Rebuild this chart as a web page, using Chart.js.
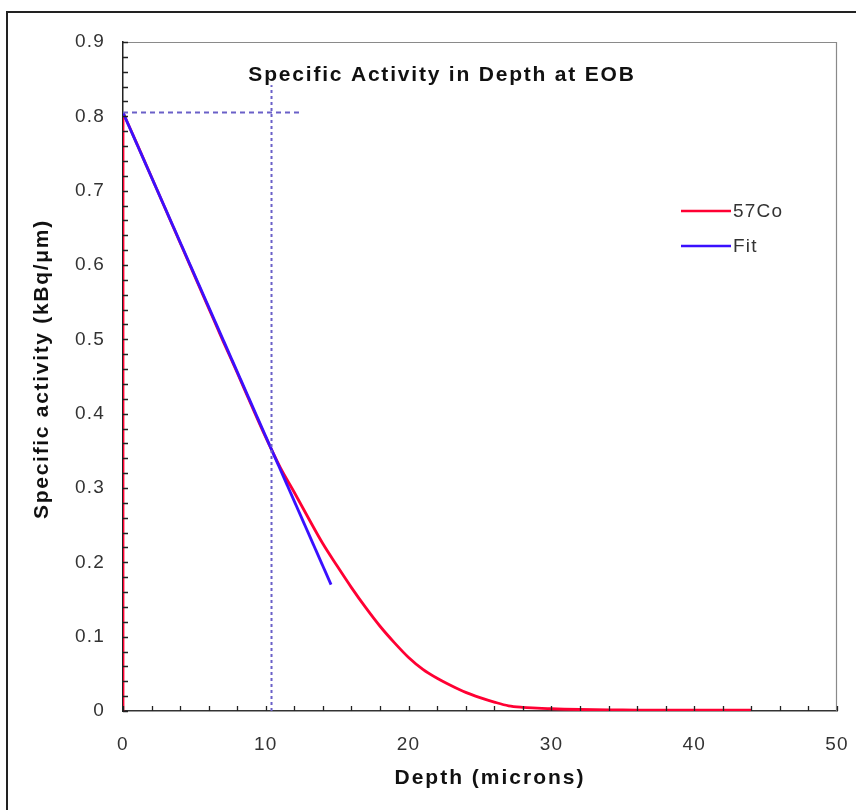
<!DOCTYPE html>
<html>
<head>
<meta charset="utf-8">
<script src="https://cdn.jsdelivr.net/npm/chart.js@4.4.1/dist/chart.umd.min.js"></script>
<style>
  html,body{margin:0;padding:0;background:#fff;overflow:hidden;}
  #wrap{position:relative;width:856px;height:810px;}
  #frame{position:absolute;left:6px;top:11px;width:900px;height:900px;border-left:2px solid #222;border-top:2px solid #222;}
  canvas{position:absolute;left:0;top:0;}
</style>
</head>
<body>
<div id="wrap"><div id="frame"></div><canvas id="c" width="856" height="810"></canvas></div>
<script>
// ---- data ----
const depth57 = [0, 1, 2, 3, 4, 5, 6, 7, 8, 9, 10, 11, 12, 13, 14, 15, 16, 17, 18, 19, 20, 21, 22, 23, 24, 25, 26, 27, 28, 29, 30, 32, 35, 38, 41, 44];
const act57   = [0.805, 0.762, 0.718, 0.674, 0.630, 0.586, 0.542, 0.498, 0.455, 0.411, 0.368, 0.328, 0.294, 0.259, 0.225, 0.195, 0.166, 0.139, 0.114, 0.092, 0.072, 0.056, 0.044, 0.034, 0.025, 0.018, 0.012, 0.007, 0.005, 0.004, 0.003, 0.002, 0.0015, 0.001, 0.001, 0.001];
const riseDepth = [0, 0];          // 57Co trace rises along the axis at depth 0
const riseAct   = [0, 0.805];
const fitDepth = [0, 14.57];
const fitAct   = [0.805, 0.17];
const hGuideDepth = [0, 12.4];
const hGuideAct   = [0.805, 0.805];
const vGuideDepth = [10.4, 10.4];
const vGuideAct   = [0, 0.842];
const xTicks = [0, 10, 20, 30, 40, 50];
const yTicks = [0, 0.1, 0.2, 0.3, 0.4, 0.5, 0.6, 0.7, 0.8, 0.9];
const seriesLabels = ['57Co', 'Fit'];
const chartTitle = 'Specific Activity in Depth at EOB';
const xTitle = 'Depth (microns)';
const yTitle = 'Specific activity (kBq/\u03bcm)';

const pts = (xs, ys) => xs.map((x, i) => ({x, y: ys[i]}));
const FONT = "'Liberation Sans', Arial, sans-serif";
const RED = '#ff0033', BLUE = '#3a10ff', GUIDE = '#6a60c8';

const L = 123, T = 42, R = 837, B = 711, W = 856, H = 810;

const extras = {
  id: 'extras',
  beforeDraw(chart) {
    chart.ctx.letterSpacing = '1.2px';
  },
  afterDraw(chart) {
    const ctx = chart.ctx, ca = chart.chartArea;
    const xs = chart.scales.x, ys = chart.scales.y;
    ctx.save();
    // top & right frame of plot
    ctx.strokeStyle = '#8a8a8a'; ctx.lineWidth = 1.2;
    ctx.beginPath();
    ctx.moveTo(ca.left, ca.top + 0.5); ctx.lineTo(ca.right - 0.5, ca.top + 0.5); ctx.lineTo(ca.right - 0.5, ca.bottom);
    ctx.stroke();
    // minor/major ticks inside
    ctx.strokeStyle = '#222'; ctx.lineWidth = 1.3;
    ctx.beginPath();
    for (let v = 0; v <= 50.0001; v += 2) {
      const px = Math.round(xs.getPixelForValue(v)) + 0.5;
      ctx.moveTo(px, ca.bottom); ctx.lineTo(px, ca.bottom - 5);
    }
    for (let k = 0; k <= 45; k++) {
      const py = Math.round(ys.getPixelForValue(k * 0.02)) + 0.5;
      ctx.moveTo(ca.left, py); ctx.lineTo(ca.left + 5, py);
    }
    ctx.stroke();
    ctx.textAlign = 'center'; ctx.textBaseline = 'middle';
    // chart title
    ctx.fillStyle = '#111';
    ctx.letterSpacing = '1.8px';
    ctx.font = "bold 21px " + FONT;
    ctx.fillText(chartTitle, 442, 75);
    // x title
    ctx.letterSpacing = '2px';
    ctx.fillText(xTitle, 490, 778);
    // y title
    ctx.save();
    ctx.translate(42, 369);
    ctx.rotate(-Math.PI / 2);
    ctx.letterSpacing = '1.7px';
    ctx.fillText(yTitle, 0, 0);
    ctx.restore();
    // legend
    const items = chart.data.datasets.slice(0, 2);
    const ly = [211, 246];
    ctx.letterSpacing = '1.2px';
    ctx.font = "19px " + FONT;
    ctx.textAlign = 'left';
    items.forEach((d, i) => {
      ctx.strokeStyle = d.borderColor; ctx.lineWidth = 2.5;
      ctx.beginPath(); ctx.moveTo(681, ly[i]); ctx.lineTo(731, ly[i]); ctx.stroke();
      ctx.fillStyle = '#333';
      ctx.fillText(d.label, 733, ly[i] + 1);
    });
    ctx.restore();
  }
};

new Chart(document.getElementById('c'), {
  type: 'scatter',
  data: {
    datasets: [
      { label: seriesLabels[0], data: pts(depth57, act57), showLine: true, borderColor: RED, borderWidth: 2.8, pointRadius: 0, cubicInterpolationMode: 'monotone', order: 3 },
      { label: seriesLabels[1], data: pts(fitDepth, fitAct), showLine: true, borderColor: BLUE, borderWidth: 2.8, pointRadius: 0, order: 2 },
      { label: seriesLabels[0], data: pts(riseDepth, riseAct), showLine: true, borderColor: RED, borderWidth: 2.8, pointRadius: 0, order: 3 },
      { label: 'h', data: pts(hGuideDepth, hGuideAct), showLine: true, borderColor: GUIDE, borderWidth: 2, borderDash: [5, 4], pointRadius: 0, order: 1 },
      { label: 'v', data: pts(vGuideDepth, vGuideAct), showLine: true, borderColor: GUIDE, borderWidth: 2, borderDash: [3, 3], pointRadius: 0, order: 1 }
    ]
  },
  options: {
    responsive: false,
    animation: false,
    layout: { padding: { left: 0, right: W - R, top: T, bottom: 0 } },
    plugins: { legend: { display: false }, tooltip: { enabled: false }, title: { display: false } },
    scales: {
      x: {
        type: 'linear', min: 0, max: 50,
        afterBuildTicks: (s) => { s.ticks = xTicks.map(v => ({value: v})); },
        afterFit: (s) => { s.height = H - B; s.paddingLeft = 0; s.paddingRight = 0; },
        grid: { display: false, drawTicks: false },
        border: { display: true, color: '#333', width: 1.5 },
        ticks: { color: '#333', font: { family: FONT, size: 19 }, padding: 22, maxRotation: 0, autoSkip: false },
        title: { display: false }
      },
      y: {
        type: 'linear', min: 0, max: 0.9,
        afterBuildTicks: (s) => { s.ticks = yTicks.map(v => ({value: v})); },
        afterFit: (s) => { s.width = L; s.paddingTop = 0; s.paddingBottom = 0; },
        grid: { display: false, drawTicks: false },
        border: { display: true, color: '#222', width: 1.5 },
        ticks: { color: '#333', font: { family: FONT, size: 19 }, padding: 18, autoSkip: false,
                 callback: (v) => String(Math.round(v * 10) / 10) },
        title: { display: false }
      }
    }
  },
  plugins: [extras]
});
</script>
</body>
</html>
